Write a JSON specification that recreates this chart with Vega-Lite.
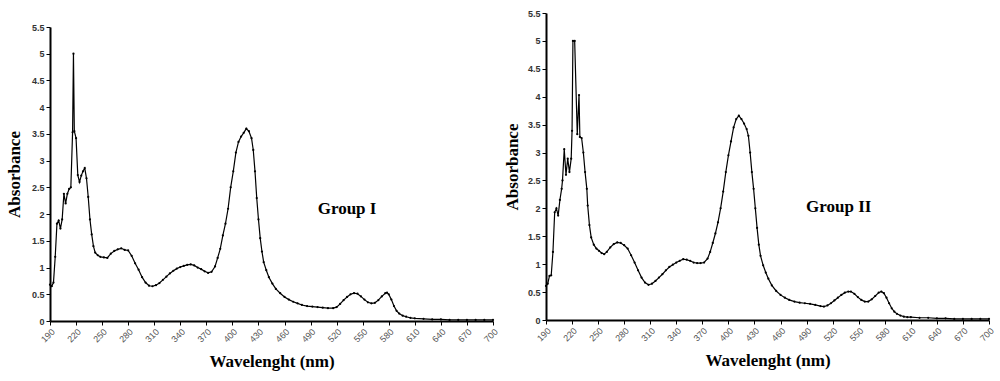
{
  "$schema": "https://vega.github.io/schema/vega-lite/v6.json",
  "padding": {"left": 5, "top": 9, "right": 5, "bottom": 5},
  "background": "white",
  "config": {
    "view": {"stroke": null},
    "axis": {
      "grid": false,
      "domainColor": "black",
      "domainWidth": 2,
      "tickColor": "black",
      "tickWidth": 1,
      "tickSize": 4,
      "tickCount": 30,
      "labelOverlap": false,
      "labelFont": "Liberation Sans",
      "labelFontSize": 9,
      "labelColor": "#333333",
      "titleFont": "Liberation Serif",
      "titleFontSize": 17,
      "titleFontWeight": "bold",
      "titleColor": "black"
    }
  },
  "datasets": {
    "g1": [
      {"nm":190,"abs":0.68},{"nm":192,"abs":0.65},{"nm":194,"abs":0.72},{"nm":196,"abs":1.2},{"nm":198,"abs":1.82},{"nm":200,"abs":1.88},{"nm":202,"abs":1.73},{"nm":204,"abs":1.9},{"nm":206,"abs":2.38},{"nm":208,"abs":2.2},{"nm":210,"abs":2.38},{"nm":212,"abs":2.47},{"nm":214,"abs":2.5},{"nm":216,"abs":3.53},{"nm":217,"abs":5.0},{"nm":218,"abs":3.55},{"nm":220,"abs":3.42},{"nm":222,"abs":2.73},{"nm":224,"abs":2.6},{"nm":226,"abs":2.72},{"nm":228,"abs":2.8},{"nm":230,"abs":2.86},{"nm":232,"abs":2.67},{"nm":234,"abs":2.32},{"nm":236,"abs":1.9},{"nm":238,"abs":1.62},{"nm":240,"abs":1.4},{"nm":242,"abs":1.28},{"nm":245,"abs":1.23},{"nm":248,"abs":1.2},{"nm":252,"abs":1.19},{"nm":256,"abs":1.18},{"nm":260,"abs":1.26},{"nm":264,"abs":1.31},{"nm":268,"abs":1.34},{"nm":272,"abs":1.36},{"nm":276,"abs":1.33},{"nm":280,"abs":1.32},{"nm":284,"abs":1.22},{"nm":288,"abs":1.08},{"nm":292,"abs":0.96},{"nm":296,"abs":0.82},{"nm":300,"abs":0.72},{"nm":304,"abs":0.66},{"nm":308,"abs":0.65},{"nm":312,"abs":0.67},{"nm":316,"abs":0.71},{"nm":320,"abs":0.77},{"nm":324,"abs":0.83},{"nm":328,"abs":0.89},{"nm":332,"abs":0.94},{"nm":336,"abs":0.98},{"nm":340,"abs":1.01},{"nm":344,"abs":1.03},{"nm":348,"abs":1.05},{"nm":352,"abs":1.06},{"nm":356,"abs":1.04},{"nm":360,"abs":1.0},{"nm":364,"abs":0.97},{"nm":368,"abs":0.93},{"nm":372,"abs":0.9},{"nm":376,"abs":0.92},{"nm":380,"abs":1.02},{"nm":383,"abs":1.18},{"nm":386,"abs":1.35},{"nm":389,"abs":1.6},{"nm":392,"abs":1.82},{"nm":395,"abs":2.1},{"nm":398,"abs":2.5},{"nm":401,"abs":2.8},{"nm":404,"abs":3.15},{"nm":407,"abs":3.35},{"nm":410,"abs":3.45},{"nm":413,"abs":3.52},{"nm":416,"abs":3.6},{"nm":419,"abs":3.55},{"nm":422,"abs":3.42},{"nm":424,"abs":3.2},{"nm":426,"abs":2.8},{"nm":428,"abs":2.3},{"nm":430,"abs":1.9},{"nm":432,"abs":1.55},{"nm":434,"abs":1.3},{"nm":436,"abs":1.1},{"nm":439,"abs":0.95},{"nm":442,"abs":0.82},{"nm":446,"abs":0.7},{"nm":450,"abs":0.6},{"nm":455,"abs":0.52},{"nm":460,"abs":0.45},{"nm":465,"abs":0.4},{"nm":470,"abs":0.36},{"nm":475,"abs":0.33},{"nm":480,"abs":0.3},{"nm":486,"abs":0.28},{"nm":492,"abs":0.27},{"nm":498,"abs":0.26},{"nm":504,"abs":0.25},{"nm":510,"abs":0.24},{"nm":516,"abs":0.24},{"nm":520,"abs":0.26},{"nm":524,"abs":0.32},{"nm":528,"abs":0.39},{"nm":532,"abs":0.45},{"nm":536,"abs":0.5},{"nm":540,"abs":0.52},{"nm":544,"abs":0.51},{"nm":548,"abs":0.46},{"nm":552,"abs":0.4},{"nm":556,"abs":0.35},{"nm":560,"abs":0.33},{"nm":564,"abs":0.34},{"nm":568,"abs":0.39},{"nm":572,"abs":0.46},{"nm":576,"abs":0.52},{"nm":578,"abs":0.53},{"nm":580,"abs":0.5},{"nm":583,"abs":0.4},{"nm":586,"abs":0.28},{"nm":589,"abs":0.19},{"nm":592,"abs":0.14},{"nm":596,"abs":0.1},{"nm":600,"abs":0.08},{"nm":605,"abs":0.06},{"nm":610,"abs":0.05},{"nm":620,"abs":0.04},{"nm":630,"abs":0.03},{"nm":640,"abs":0.03},{"nm":650,"abs":0.02},{"nm":660,"abs":0.02},{"nm":670,"abs":0.02},{"nm":680,"abs":0.02},{"nm":690,"abs":0.02},{"nm":700,"abs":0.02}
    ],
    "g2": [
      {"nm":190,"abs":0.61},{"nm":192,"abs":0.65},{"nm":194,"abs":0.79},{"nm":196,"abs":0.8},{"nm":198,"abs":1.22},{"nm":200,"abs":1.93},{"nm":202,"abs":2.0},{"nm":204,"abs":1.87},{"nm":206,"abs":2.15},{"nm":208,"abs":2.35},{"nm":209,"abs":2.5},{"nm":211,"abs":3.06},{"nm":213,"abs":2.6},{"nm":215,"abs":2.89},{"nm":217,"abs":2.65},{"nm":219,"abs":2.89},{"nm":220,"abs":3.39},{"nm":221,"abs":5.0},{"nm":223,"abs":5.0},{"nm":226,"abs":3.33},{"nm":228,"abs":4.03},{"nm":229,"abs":3.28},{"nm":231,"abs":3.26},{"nm":233,"abs":3.0},{"nm":235,"abs":2.65},{"nm":237,"abs":2.35},{"nm":238,"abs":2.05},{"nm":240,"abs":1.7},{"nm":242,"abs":1.48},{"nm":245,"abs":1.35},{"nm":248,"abs":1.28},{"nm":251,"abs":1.24},{"nm":254,"abs":1.2},{"nm":257,"abs":1.18},{"nm":260,"abs":1.22},{"nm":264,"abs":1.3},{"nm":268,"abs":1.36},{"nm":272,"abs":1.39},{"nm":276,"abs":1.38},{"nm":280,"abs":1.34},{"nm":284,"abs":1.28},{"nm":288,"abs":1.16},{"nm":292,"abs":1.03},{"nm":296,"abs":0.89},{"nm":300,"abs":0.76},{"nm":304,"abs":0.67},{"nm":308,"abs":0.63},{"nm":312,"abs":0.65},{"nm":316,"abs":0.7},{"nm":320,"abs":0.76},{"nm":324,"abs":0.82},{"nm":328,"abs":0.89},{"nm":332,"abs":0.95},{"nm":336,"abs":0.99},{"nm":340,"abs":1.03},{"nm":344,"abs":1.06},{"nm":348,"abs":1.09},{"nm":352,"abs":1.08},{"nm":356,"abs":1.06},{"nm":360,"abs":1.03},{"nm":364,"abs":1.02},{"nm":368,"abs":1.02},{"nm":372,"abs":1.03},{"nm":376,"abs":1.1},{"nm":379,"abs":1.22},{"nm":382,"abs":1.38},{"nm":385,"abs":1.55},{"nm":388,"abs":1.75},{"nm":391,"abs":2.0},{"nm":394,"abs":2.3},{"nm":397,"abs":2.65},{"nm":400,"abs":2.95},{"nm":403,"abs":3.2},{"nm":406,"abs":3.45},{"nm":409,"abs":3.6},{"nm":412,"abs":3.66},{"nm":415,"abs":3.6},{"nm":418,"abs":3.52},{"nm":421,"abs":3.42},{"nm":423,"abs":3.3},{"nm":425,"abs":3.0},{"nm":427,"abs":2.65},{"nm":429,"abs":2.35},{"nm":431,"abs":2.0},{"nm":433,"abs":1.65},{"nm":435,"abs":1.35},{"nm":437,"abs":1.15},{"nm":440,"abs":0.98},{"nm":443,"abs":0.85},{"nm":446,"abs":0.74},{"nm":450,"abs":0.62},{"nm":455,"abs":0.52},{"nm":460,"abs":0.45},{"nm":465,"abs":0.4},{"nm":470,"abs":0.36},{"nm":476,"abs":0.33},{"nm":482,"abs":0.31},{"nm":488,"abs":0.3},{"nm":494,"abs":0.29},{"nm":500,"abs":0.27},{"nm":506,"abs":0.25},{"nm":510,"abs":0.24},{"nm":514,"abs":0.26},{"nm":518,"abs":0.3},{"nm":522,"abs":0.35},{"nm":526,"abs":0.4},{"nm":530,"abs":0.45},{"nm":534,"abs":0.49},{"nm":538,"abs":0.51},{"nm":541,"abs":0.51},{"nm":545,"abs":0.47},{"nm":549,"abs":0.41},{"nm":553,"abs":0.36},{"nm":557,"abs":0.33},{"nm":561,"abs":0.33},{"nm":565,"abs":0.37},{"nm":569,"abs":0.43},{"nm":573,"abs":0.49},{"nm":576,"abs":0.51},{"nm":579,"abs":0.48},{"nm":582,"abs":0.4},{"nm":585,"abs":0.3},{"nm":588,"abs":0.21},{"nm":591,"abs":0.15},{"nm":594,"abs":0.11},{"nm":598,"abs":0.08},{"nm":602,"abs":0.06},{"nm":606,"abs":0.05},{"nm":610,"abs":0.05},{"nm":620,"abs":0.04},{"nm":630,"abs":0.04},{"nm":640,"abs":0.03},{"nm":650,"abs":0.03},{"nm":660,"abs":0.02},{"nm":670,"abs":0.02},{"nm":680,"abs":0.02},{"nm":690,"abs":0.02},{"nm":700,"abs":0.02}
    ]
  },
  "spacing": 3,
  "hconcat": [
    {
      "spacing": 0,
      "vconcat": [
        {
          "width": 443,
          "height": 10,
          "data": {"values": []},
          "mark": "point"
        },
        {
          "width": 443,
          "height": 294,
          "layer": [
            {
              "data": {"name": "g1"},
              "mark": {"type": "line", "color": "black", "strokeWidth": 1.2, "point": {"filled": true, "size": 5, "color": "black"}},
              "encoding": {
                "x": {"field": "nm", "type": "quantitative", "scale": {"domain": [190, 700], "nice": false, "zero": false},
                      "axis": {"title": "Wavelenght (nm)", "values": [190,220,250,280,310,340,370,400,430,460,490,520,550,580,610,640,670,700], "tickCount": 30, "labelAngle": -45, "labelOverlap": false, "labelColor": "#555555", "labelFontSize": 9, "titlePadding": 10}},
                "y": {"field": "abs", "type": "quantitative", "scale": {"domain": [0, 5.5], "nice": false},
                      "axis": {"title": "Absorbance", "values": [0,0.5,1,1.5,2,2.5,3,3.5,4,4.5,5,5.5], "tickCount": 30, "labelOverlap": false, "labelExpr": "datum.value + ''", "labelFontWeight": "bold", "titlePadding": 8}}
              }
            },
            {
              "data": {"values": [{"nm": 532, "abs": 2.1, "label": "Group I"}]},
              "mark": {"type": "text", "font": "Liberation Serif", "fontWeight": "bold", "fontSize": 17, "color": "black"},
              "encoding": {
                "x": {"field": "nm", "type": "quantitative"},
                "y": {"field": "abs", "type": "quantitative"},
                "text": {"field": "label"}
              }
            }
          ]
        }
      ]
    },
    {
      "width": 443,
      "height": 307,
      "layer": [
        {
          "data": {"name": "g2"},
          "mark": {"type": "line", "color": "black", "strokeWidth": 1.2, "point": {"filled": true, "size": 5, "color": "black"}},
          "encoding": {
            "x": {"field": "nm", "type": "quantitative", "scale": {"domain": [190, 700], "nice": false, "zero": false},
                  "axis": {"title": "Wavelenght (nm)", "values": [190,220,250,280,310,340,370,400,430,460,490,520,550,580,610,640,670,700], "tickCount": 30, "labelAngle": -45, "labelOverlap": false, "labelColor": "#555555", "labelFontSize": 9, "titlePadding": 10}},
            "y": {"field": "abs", "type": "quantitative", "scale": {"domain": [0, 5.5], "nice": false},
                  "axis": {"title": "Absorbance", "values": [0,0.5,1,1.5,2,2.5,3,3.5,4,4.5,5,5.5], "tickCount": 30, "labelOverlap": false, "labelExpr": "datum.value + ''", "labelFontWeight": "bold", "titlePadding": 6}}
          }
        },
        {
          "data": {"values": [{"nm": 527, "abs": 2.02, "label": "Group II"}]},
          "mark": {"type": "text", "font": "Liberation Serif", "fontWeight": "bold", "fontSize": 17, "color": "black"},
          "encoding": {
            "x": {"field": "nm", "type": "quantitative"},
            "y": {"field": "abs", "type": "quantitative"},
            "text": {"field": "label"}
          }
        }
      ]
    }
  ]
}
